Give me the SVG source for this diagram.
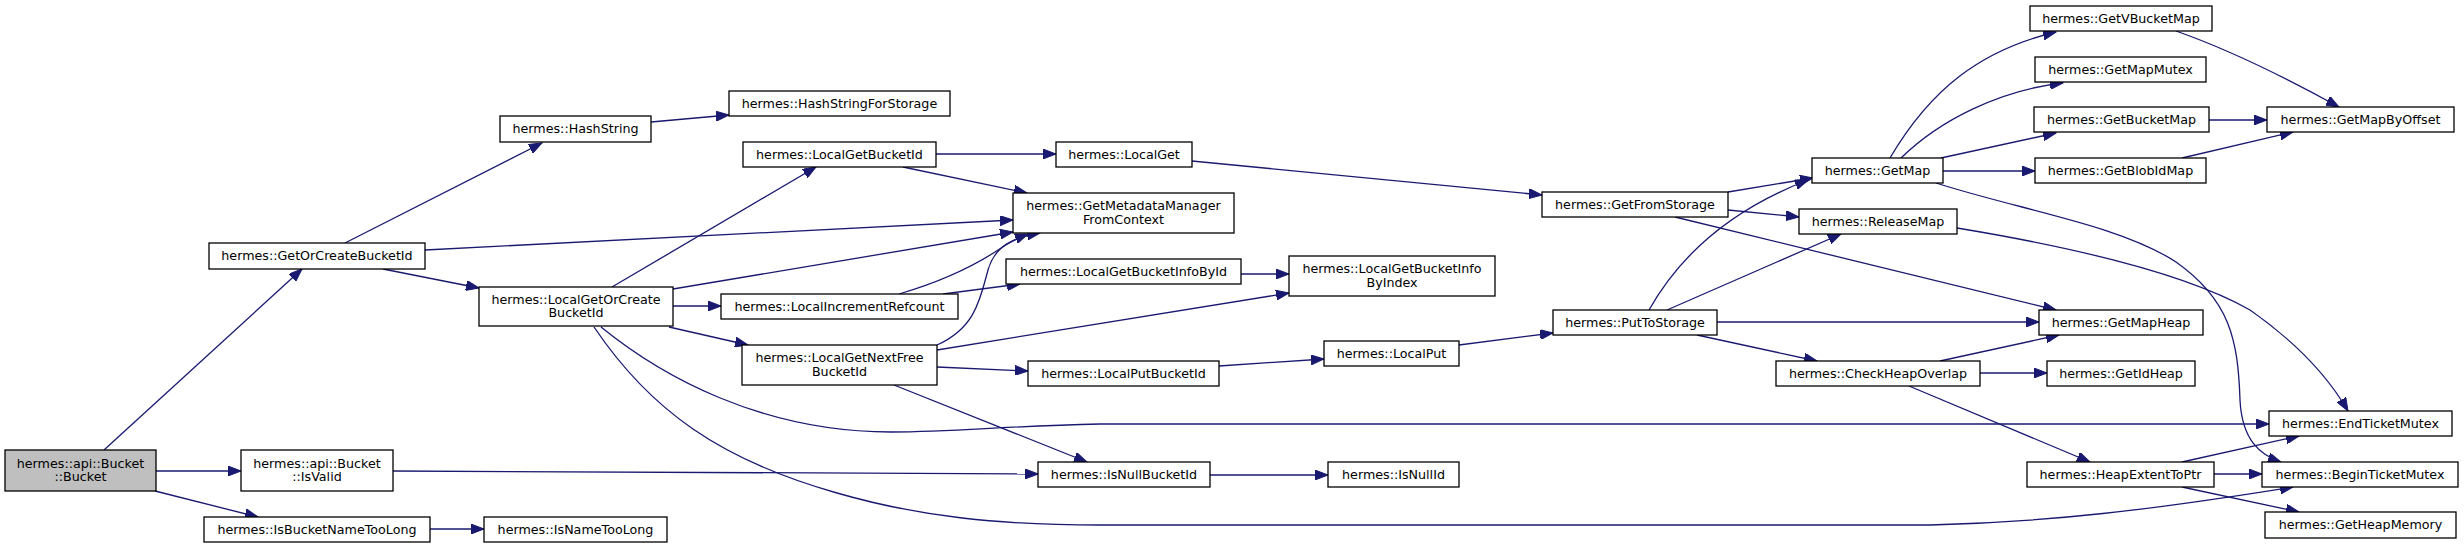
<svg xmlns="http://www.w3.org/2000/svg" width="2464" height="548" viewBox="0 0 2464 548">
<style>
.n rect{fill:#fff;stroke:#000;stroke-width:1.3}
.n text{font-family:"DejaVu Sans",sans-serif;font-size:12.7px;fill:#000;text-anchor:middle}
.root rect{fill:#bfbfbf}
#edges path{fill:none;stroke:#191970;stroke-width:1.3;marker-end:url(#ah)}
</style>
<defs>
<marker id="ah" markerWidth="14" markerHeight="10" refX="13" refY="5" orient="auto" markerUnits="userSpaceOnUse">
<path d="M0,0 L13,5 L0,10 z" fill="#191970" stroke="#191970" stroke-width="1"/>
</marker>
</defs>
<rect width="2464" height="548" fill="#fff"/>
<g id="edges">
<path d="M104,450 L302,269"/>
<path d="M156,471 L241,471"/>
<path d="M155,491 L258,517"/>
<path d="M345,243 L542,143"/>
<path d="M425,250 L1013,220"/>
<path d="M383,269 L479,288"/>
<path d="M651,122 L729,115"/>
<path d="M612,287 L816,167"/>
<path d="M673,289 L1013,232"/>
<path d="M673,306 L721,306"/>
<path d="M669,327 L748,345"/>
<path d="M601,327 C660,375 760,432 891,432 C960,432 1000,426 1100,424 L2269,424"/>
<path d="M594,327 C650,410 720,460 837,493 C920,517 1000,525 1100,525 L1930,525 C2050,522 2150,510 2293,487"/>
<path d="M936,154 L1056,154"/>
<path d="M903,167 L1027,193"/>
<path d="M899,294 C940,282 970,268 995,252 C1005,245 1015,239 1028,234"/>
<path d="M943,294 L1020,284"/>
<path d="M937,345 C975,328 980,300 988,270 C995,245 1015,237 1040,233"/>
<path d="M937,350 L1289,293"/>
<path d="M937,367 L1028,371"/>
<path d="M894,385 L1087,462"/>
<path d="M1192,161 L1542,195"/>
<path d="M1241,274 L1289,274"/>
<path d="M1219,366 L1324,359"/>
<path d="M1459,345 L1553,333"/>
<path d="M393,471 L1038,474"/>
<path d="M1210,475 L1328,475"/>
<path d="M430,529 L484,529"/>
<path d="M1728,192 L1813,178"/>
<path d="M1728,210 L1799,217"/>
<path d="M1675,217 L2056,310"/>
<path d="M1649,310 C1680,255 1730,210 1808,180"/>
<path d="M1667,310 L1841,234"/>
<path d="M1890,158 C1930,90 1980,50 2056,32"/>
<path d="M1901,158 C1940,120 2000,90 2063,83"/>
<path d="M1941,158 L2056,133"/>
<path d="M1943,171 L2035,171"/>
<path d="M1936,183 C2020,210 2120,225 2176,262 C2230,300 2238,340 2240,400 C2242,440 2260,455 2281,462"/>
<path d="M1957,228 C2060,245 2180,270 2250,310 C2300,345 2330,380 2348,411"/>
<path d="M2176,31 C2230,50 2290,80 2339,107"/>
<path d="M2209,120 L2267,120"/>
<path d="M2182,158 L2293,132"/>
<path d="M1717,322 L2039,322"/>
<path d="M1697,335 L1817,361"/>
<path d="M1940,361 L2059,335"/>
<path d="M1980,373 L2047,373"/>
<path d="M1909,386 L2090,462"/>
<path d="M2182,462 L2299,436"/>
<path d="M2214,474 L2262,474"/>
<path d="M2182,487 L2299,512"/>
</g>
<g id="n1" class="n root"><rect x="5" y="450" width="151" height="41"/><text x="80.5" y="467.5">hermes::api::Bucket</text><text x="80.5" y="481">::Bucket</text></g>
<g id="n2" class="n"><rect x="209" y="243" width="216" height="26"/><text x="317" y="259.5">hermes::GetOrCreateBucketId</text></g>
<g id="n3" class="n"><rect x="241" y="450" width="152" height="41"/><text x="317" y="467.5">hermes::api::Bucket</text><text x="317" y="481">::IsValid</text></g>
<g id="n4" class="n"><rect x="204" y="517" width="226" height="25"/><text x="317" y="533.5">hermes::IsBucketNameTooLong</text></g>
<g id="n5" class="n"><rect x="500" y="116" width="151" height="26"/><text x="575.5" y="132.5">hermes::HashString</text></g>
<g id="n6" class="n"><rect x="729" y="91" width="221" height="25"/><text x="839.5" y="107.5">hermes::HashStringForStorage</text></g>
<g id="n7" class="n"><rect x="479" y="287" width="194" height="39"/><text x="576" y="303.5">hermes::LocalGetOrCreate</text><text x="576" y="317">BucketId</text></g>
<g id="n8" class="n"><rect x="743" y="142" width="193" height="25"/><text x="839.5" y="158.5">hermes::LocalGetBucketId</text></g>
<g id="n9" class="n"><rect x="1013" y="193" width="221" height="40"/><text x="1123.5" y="210">hermes::GetMetadataManager</text><text x="1123.5" y="223.5">FromContext</text></g>
<g id="n10" class="n"><rect x="721" y="294" width="237" height="25"/><text x="839.5" y="310.5">hermes::LocalIncrementRefcount</text></g>
<g id="n11" class="n"><rect x="742" y="345" width="195" height="40"/><text x="839.5" y="362">hermes::LocalGetNextFree</text><text x="839.5" y="375.5">BucketId</text></g>
<g id="n12" class="n"><rect x="484" y="517" width="183" height="25"/><text x="575.5" y="533.5">hermes::IsNameTooLong</text></g>
<g id="n13" class="n"><rect x="1056" y="142" width="136" height="25"/><text x="1124" y="158.5">hermes::LocalGet</text></g>
<g id="n14" class="n"><rect x="1006" y="259" width="235" height="25"/><text x="1123.5" y="275.5">hermes::LocalGetBucketInfoById</text></g>
<g id="n15" class="n"><rect x="1289" y="256" width="206" height="40"/><text x="1392" y="273">hermes::LocalGetBucketInfo</text><text x="1392" y="286.5">ByIndex</text></g>
<g id="n16" class="n"><rect x="1028" y="361" width="191" height="25"/><text x="1123.5" y="377.5">hermes::LocalPutBucketId</text></g>
<g id="n17" class="n"><rect x="1038" y="462" width="172" height="25"/><text x="1124" y="478.5">hermes::IsNullBucketId</text></g>
<g id="n18" class="n"><rect x="1324" y="341" width="135" height="25"/><text x="1391.5" y="357.5">hermes::LocalPut</text></g>
<g id="n19" class="n"><rect x="1328" y="462" width="131" height="25"/><text x="1393.5" y="478.5">hermes::IsNullId</text></g>
<g id="n20" class="n"><rect x="1542" y="192" width="186" height="25"/><text x="1635" y="208.5">hermes::GetFromStorage</text></g>
<g id="n21" class="n"><rect x="1553" y="310" width="164" height="25"/><text x="1635" y="326.5">hermes::PutToStorage</text></g>
<g id="n22" class="n"><rect x="1812" y="158" width="131" height="25"/><text x="1877.5" y="174.5">hermes::GetMap</text></g>
<g id="n23" class="n"><rect x="1799" y="209" width="158" height="25"/><text x="1878" y="225.5">hermes::ReleaseMap</text></g>
<g id="n24" class="n"><rect x="1776" y="361" width="204" height="25"/><text x="1878" y="377.5">hermes::CheckHeapOverlap</text></g>
<g id="n25" class="n"><rect x="2030" y="6" width="182" height="25"/><text x="2121" y="22.5">hermes::GetVBucketMap</text></g>
<g id="n26" class="n"><rect x="2035" y="57" width="171" height="25"/><text x="2120.5" y="73.5">hermes::GetMapMutex</text></g>
<g id="n27" class="n"><rect x="2034" y="107" width="175" height="25"/><text x="2121.5" y="123.5">hermes::GetBucketMap</text></g>
<g id="n28" class="n"><rect x="2035" y="158" width="171" height="25"/><text x="2120.5" y="174.5">hermes::GetBlobIdMap</text></g>
<g id="n29" class="n"><rect x="2039" y="310" width="164" height="25"/><text x="2121" y="326.5">hermes::GetMapHeap</text></g>
<g id="n30" class="n"><rect x="2047" y="361" width="148" height="25"/><text x="2121" y="377.5">hermes::GetIdHeap</text></g>
<g id="n31" class="n"><rect x="2027" y="462" width="187" height="25"/><text x="2120.5" y="478.5">hermes::HeapExtentToPtr</text></g>
<g id="n32" class="n"><rect x="2267" y="107" width="187" height="25"/><text x="2360.5" y="123.5">hermes::GetMapByOffset</text></g>
<g id="n33" class="n"><rect x="2269" y="411" width="183" height="25"/><text x="2360.5" y="427.5">hermes::EndTicketMutex</text></g>
<g id="n34" class="n"><rect x="2262" y="462" width="196" height="25"/><text x="2360" y="478.5">hermes::BeginTicketMutex</text></g>
<g id="n35" class="n"><rect x="2265" y="512" width="191" height="26"/><text x="2360.5" y="529">hermes::GetHeapMemory</text></g>
</svg>
